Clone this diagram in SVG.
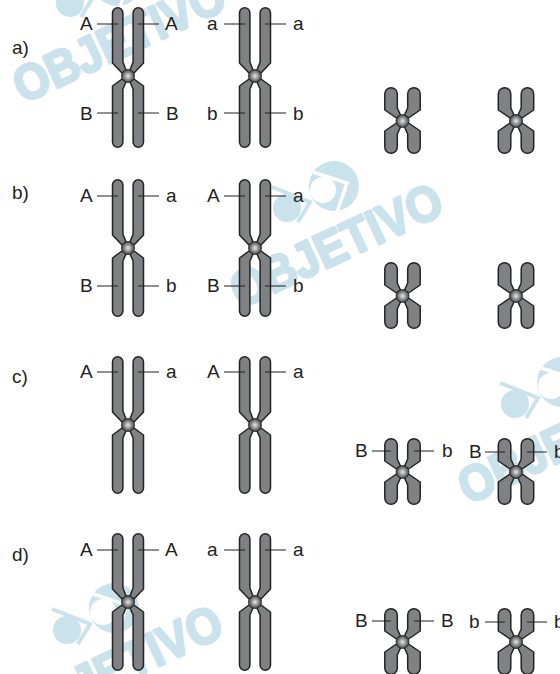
<svg xmlns="http://www.w3.org/2000/svg" width="560" height="674" viewBox="0 0 560 674">
  <style>
    .arm { fill: #808185; stroke: #232323; stroke-width: 1.5; stroke-linejoin: round; }
    .tick { stroke: #231f20; stroke-width: 1.1; fill: none; }
    .lbl { font-family: "Liberation Sans", Arial, sans-serif; font-size: 19px; fill: #231f20; }
    .wm { font-family: "Liberation Sans", Arial, sans-serif; font-size: 50px; font-weight: 700; fill: #c9e2eb; stroke: #c9e2eb; stroke-width: 2.6; stroke-linejoin: round; }
    .wf { fill: #c9e2eb; }
    .wg { fill: none; stroke: #fff; stroke-width: 3.5; }
    .wl { fill: none; stroke: #c9e2eb; stroke-width: 4; }
  </style>
  <defs>
    <radialGradient id="cen" cx="0.5" cy="0.5" r="0.55">
      <stop offset="0" stop-color="#e8e8e8"/>
      <stop offset="0.55" stop-color="#85868a"/>
      <stop offset="1" stop-color="#2c2c2e"/>
    </radialGradient>
    <g id="cen-dot"><circle r="6.5" fill="url(#cen)" stroke="#232323" stroke-width="0.8"/></g>
    <g id="large-top">
      <path class="arm" d="M-15.5,-13V-63A5.2,5.2 0 0 1 -5.1,-63V-14L-2,-6L-6,-3Z"/>
      <path class="arm" d="M15.5,-13V-63A5.2,5.2 0 0 0 5.1,-63V-14L2,-6L6,-3Z"/>
    </g>
    <g id="large">
      <use href="#large-top"/>
      <path class="arm" d="M-15.5,10L-6,3L-2,6L-5.1,13V63A5.2,5.2 0 0 1 -15.5,63Z"/>
      <path class="arm" d="M15.5,10L6,3L2,6L5.1,13V63A5.2,5.2 0 0 0 15.5,63Z"/>
      <use href="#cen-dot"/>
    </g>
    <g id="large-long">
      <use href="#large-top"/>
      <path class="arm" d="M-15.5,10L-6,3L-2,6L-5.1,13V66A5.2,5.2 0 0 1 -15.5,66Z"/>
      <path class="arm" d="M15.5,10L6,3L2,6L5.1,13V66A5.2,5.2 0 0 0 15.5,66Z"/>
      <use href="#cen-dot"/>
    </g>
    <g id="small">
      <path class="arm" d="M-17.7,-11V-27A6.2,6.2 0 0 1 -5.2,-27V-13L-2,-6L-6,-3Z"/>
      <path class="arm" d="M17.7,-11V-27A6.2,6.2 0 0 0 5.2,-27V-13L2,-6L6,-3Z"/>
      <path class="arm" d="M-17.7,10L-6,2L-2,6L-5.2,13V26A6.2,6.2 0 0 1 -17.7,26Z"/>
      <path class="arm" d="M17.7,10L6,2L2,6L5.2,13V26A6.2,6.2 0 0 0 17.7,26Z"/>
      <use href="#cen-dot"/>
    </g>
    <!-- Publisher mark: two discs with angled strokes and the slanted name -->
    <g id="mark">
      <circle class="wf" cx="334" cy="186" r="25"/>
      <circle cx="323" cy="190" r="13" fill="#fff"/>
      <path class="wg" d="M313,172L347,183L337,212"/>
      <circle class="wf" cx="287" cy="208" r="14"/>
      <path class="wl" d="M272,187L310,202L298,222"/>
      <text class="wm" transform="translate(240,309) rotate(-25)" textLength="228" lengthAdjust="spacingAndGlyphs">OBJETIVO</text>
    </g>
  </defs>

  <g id="watermarks">
    <use href="#mark" x="-217" y="-205"/>
    <use href="#mark" x="0" y="0"/>
    <use href="#mark" x="228" y="196"/>
    <use href="#mark" x="-220" y="422"/>
  </g>

  <g id="option-labels">
    <text class="lbl" x="12" y="54">a)</text>
    <text class="lbl" x="12" y="199">b)</text>
    <text class="lbl" x="12" y="383">c)</text>
    <text class="lbl" x="12" y="561">d)</text>
  </g>

  <g id="row-a">
    <g id="a1"><use href="#large-long" x="128" y="76"/>
      <path class="tick" d="M97,24H118M138,24H159M97,113H118M138,113H159"/>
      <text class="lbl" x="80" y="30">A</text><text class="lbl" x="165" y="30">A</text>
      <text class="lbl" x="80" y="120">B</text><text class="lbl" x="166" y="120">B</text></g>
    <g id="a2"><use href="#large-long" x="255" y="76"/>
      <path class="tick" d="M224,24H245M265,24H286M224,113H245M265,113H286"/>
      <text class="lbl" x="207" y="30">a</text><text class="lbl" x="293" y="30">a</text>
      <text class="lbl" x="207" y="120">b</text><text class="lbl" x="293" y="120">b</text></g>
    <g id="a3"><use href="#small" x="402.5" y="121"/></g>
    <g id="a4"><use href="#small" x="516" y="121"/></g>
  </g>

  <g id="row-b">
    <g id="b1"><use href="#large" x="128" y="248"/>
      <path class="tick" d="M97,196H118M138,196H159M97,286H118M138,286H159"/>
      <text class="lbl" x="80" y="202">A</text><text class="lbl" x="166" y="202">a</text>
      <text class="lbl" x="80" y="292">B</text><text class="lbl" x="166" y="292">b</text></g>
    <g id="b2"><use href="#large" x="255" y="248"/>
      <path class="tick" d="M224,196H245M265,196H286M224,286H245M265,286H286"/>
      <text class="lbl" x="207" y="202">A</text><text class="lbl" x="293" y="202">a</text>
      <text class="lbl" x="207" y="292">B</text><text class="lbl" x="293" y="292">b</text></g>
    <g id="b3"><use href="#small" x="402.5" y="296"/></g>
    <g id="b4"><use href="#small" x="516" y="296"/></g>
  </g>

  <g id="row-c">
    <g id="c1"><use href="#large" x="128" y="425"/>
      <path class="tick" d="M97,372H118M138,372H159"/>
      <text class="lbl" x="80" y="378">A</text><text class="lbl" x="166" y="378">a</text></g>
    <g id="c2"><use href="#large" x="255" y="425"/>
      <path class="tick" d="M224,372H245M265,372H286"/>
      <text class="lbl" x="207" y="378">A</text><text class="lbl" x="293" y="378">a</text></g>
    <g id="c3"><use href="#small" x="402.5" y="472"/>
      <path class="tick" d="M372,451H391M414,451H434"/>
      <text class="lbl" x="355" y="457">B</text><text class="lbl" x="442" y="457">b</text></g>
    <g id="c4"><use href="#small" x="516" y="472"/>
      <path class="tick" d="M485,452H505M527,452H547"/>
      <text class="lbl" x="469" y="458">B</text><text class="lbl" x="554" y="458">b</text></g>
  </g>

  <g id="row-d">
    <g id="d1"><use href="#large" x="128" y="602"/>
      <path class="tick" d="M97,550H118M138,550H159"/>
      <text class="lbl" x="80" y="556">A</text><text class="lbl" x="165" y="556">A</text></g>
    <g id="d2"><use href="#large" x="255" y="602"/>
      <path class="tick" d="M224,550H245M265,550H286"/>
      <text class="lbl" x="207" y="556">a</text><text class="lbl" x="293" y="556">a</text></g>
    <g id="d3"><use href="#small" x="402.5" y="642"/>
      <path class="tick" d="M372,621H391M414,621H434"/>
      <text class="lbl" x="355" y="627">B</text><text class="lbl" x="441" y="627">B</text></g>
    <g id="d4"><use href="#small" x="516" y="642"/>
      <path class="tick" d="M485,622H505M527,622H547"/>
      <text class="lbl" x="469" y="628">b</text><text class="lbl" x="554" y="628">b</text></g>
  </g>
</svg>
